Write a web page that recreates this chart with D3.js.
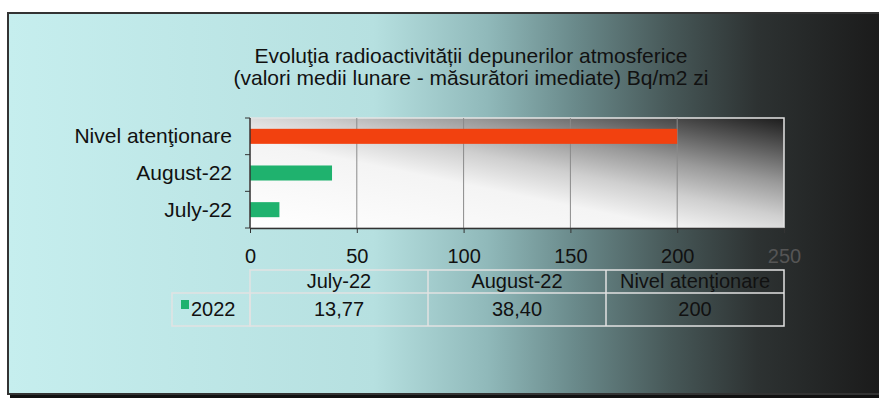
<!DOCTYPE html>
<html>
<head>
<meta charset="utf-8">
<script src="https://cdn.jsdelivr.net/npm/d3@7"></script>
<style>
  body { margin: 0; background: #fff; }
  svg { display: block; font-family: "Liberation Sans", Arial, sans-serif; }
</style>
</head>
<body>
<svg id="chart" width="879" height="404"></svg>
<script>
// chart data
const categories = ["July-22", "August-22", "Nivel atenţionare"];
const values = [13.77, 38.40, 200];
const valueLabels = ["13,77", "38,40", "200"];
const seriesName = "2022";
const xTicks = [0, 50, 100, 150, 200, 250];
const titleLines = [
	"Evoluţia radioactivității depunerilor atmosferice",
	"(valori medii lunare - măsurători imediate) Bq/m2 zi"
];

const svg = d3.select("#chart");
const defs = svg.append("defs");

// background gradient of the card (cyan on the left, black on the right)
const bg = defs.append("linearGradient")
	.attr("id", "bgGrad")
	.attr("gradientUnits", "userSpaceOnUse")
	.attr("x1", 8).attr("y1", 0).attr("x2", 879).attr("y2", 0);
[
	[0, "#c6eeee"], [0.42, "#b6e0e0"], [0.55, "#90b9ba"], [0.65, "#6a8a8b"],
	[0.76, "#475858"], [0.86, "#2d3232"], [1, "#1b1b1b"]
].forEach(([o, c]) => bg.append("stop").attr("offset", o).attr("stop-color", c));

// plot area gradient (white bottom-left, dark top-right)
const pg = defs.append("linearGradient")
	.attr("id", "plotGrad")
	.attr("x1", 0).attr("y1", 1).attr("x2", 1).attr("y2", 0);
[
	[0, "#ffffff"], [0.4, "#f4f4f4"], [0.55, "#cfcfcf"], [0.7, "#9a9a9a"],
	[0.85, "#5a5a5a"], [1, "#1c1c1c"]
].forEach(([o, c]) => pg.append("stop").attr("offset", o).attr("stop-color", c));

// card with shadow
svg.append("rect").attr("x", 10).attr("y", 16).attr("width", 880).attr("height", 382).attr("fill", "#111");
svg.append("rect").attr("x", 8).attr("y", 13).attr("width", 880).attr("height", 381)
	.attr("fill", "url(#bgGrad)")
	.attr("stroke", "#333").attr("stroke-width", 2);

// title
svg.append("g").selectAll("text")
	.data(titleLines)
	.join("text")
	.attr("x", 471)
	.attr("y", (d, i) => 63 + i * 22)
	.attr("text-anchor", "middle")
	.attr("font-size", 21)
	.attr("fill", "#111")
	.text(d => d);

const plot = { left: 250, right: 784, top: 118, bottom: 228 };

const x = d3.scaleLinear().domain([0, 250]).range([plot.left, plot.right]);
const y = d3.scaleBand()
	.domain(categories.slice().reverse())
	.range([plot.top, plot.bottom])
	.paddingInner(0.59)
	.paddingOuter(0.295);

// plot background
svg.append("rect")
	.attr("x", plot.left).attr("y", plot.top)
	.attr("width", plot.right - plot.left).attr("height", plot.bottom - plot.top)
	.attr("fill", "url(#plotGrad)")
	.attr("stroke", "#e4e4e4").attr("stroke-width", 1.5);

// gridlines
svg.append("g").selectAll("line")
	.data(xTicks.filter(t => t > 0 && t < 250))
	.join("line")
	.attr("x1", d => x(d)).attr("x2", d => x(d))
	.attr("y1", plot.top).attr("y2", plot.bottom)
	.attr("stroke", "#8a8a8a").attr("stroke-width", 1);

// bars
svg.append("g").selectAll("rect")
	.data(categories.map((c, i) => ({ c, v: values[i], i })))
	.join("rect")
	.attr("x", x(0))
	.attr("y", d => y(d.c))
	.attr("width", d => x(d.v) - x(0))
	.attr("height", y.bandwidth())
	.attr("fill", d => d.i === 2 ? "#f2410f" : "#1fb26e");

// x axis
const xAxis = svg.append("g")
	.attr("transform", `translate(0,${plot.bottom})`)
	.call(d3.axisBottom(x).tickValues(xTicks).tickSize(5).tickSizeOuter(0).tickPadding(16));
xAxis.select(".domain").attr("stroke", "#333").attr("stroke-width", 1.5);
xAxis.selectAll(".tick line").attr("stroke", "#333");
xAxis.selectAll(".tick text")
	.attr("font-size", 20)
	.attr("font-family", "Liberation Sans, Arial, sans-serif")
	.attr("fill", d => d === 250 ? "#555" : "#111");

// y axis line with ticks at band boundaries
const yAxis = svg.append("g");
yAxis.append("line")
	.attr("x1", plot.left).attr("x2", plot.left)
	.attr("y1", plot.top).attr("y2", plot.bottom)
	.attr("stroke", "#333").attr("stroke-width", 1.5);
yAxis.selectAll("line.tk")
	.data(d3.range(categories.length + 1))
	.join("line")
	.attr("class", "tk")
	.attr("x1", plot.left - 5).attr("x2", plot.left)
	.attr("y1", i => plot.top + i * y.step())
	.attr("y2", i => plot.top + i * y.step())
	.attr("stroke", "#333");
yAxis.selectAll("text")
	.data(categories)
	.join("text")
	.attr("x", plot.left - 18)
	.attr("y", d => y(d) + y.bandwidth() / 2 + 7)
	.attr("text-anchor", "end")
	.attr("font-size", 21)
	.attr("fill", "#111")
	.text(d => d);

// data table under the chart
const colW = (plot.right - plot.left) / categories.length;
const table = { top: 270, mid: 293, bottom: 326, legendLeft: 172 };
const tg = svg.append("g").attr("stroke", "#e2e2e2").attr("stroke-width", 1.5).attr("fill", "none");
tg.append("rect").attr("x", plot.left).attr("y", table.top)
	.attr("width", plot.right - plot.left).attr("height", table.bottom - table.top);
tg.append("rect").attr("x", table.legendLeft).attr("y", table.mid)
	.attr("width", plot.left - table.legendLeft).attr("height", table.bottom - table.mid);
tg.append("line").attr("x1", plot.left).attr("x2", plot.right).attr("y1", table.mid).attr("y2", table.mid);
tg.selectAll("line.col")
	.data(d3.range(1, categories.length))
	.join("line")
	.attr("class", "col")
	.attr("x1", i => plot.left + i * colW).attr("x2", i => plot.left + i * colW)
	.attr("y1", table.top).attr("y2", table.bottom);

svg.append("g").selectAll("text")
	.data(categories)
	.join("text")
	.attr("x", (d, i) => plot.left + (i + 0.5) * colW)
	.attr("y", 288)
	.attr("text-anchor", "middle")
	.attr("font-size", 20)
	.attr("fill", "#111")
	.text(d => d);
svg.append("g").selectAll("text")
	.data(valueLabels)
	.join("text")
	.attr("x", (d, i) => plot.left + (i + 0.5) * colW)
	.attr("y", 316)
	.attr("text-anchor", "middle")
	.attr("font-size", 20)
	.attr("fill", "#111")
	.text(d => d);

// legend key
svg.append("rect").attr("x", 181).attr("y", 300).attr("width", 8).attr("height", 9).attr("fill", "#1fb26e");
svg.append("text").attr("x", 191).attr("y", 316).attr("font-size", 20).attr("fill", "#111").text(seriesName);
</script>
</body>
</html>
